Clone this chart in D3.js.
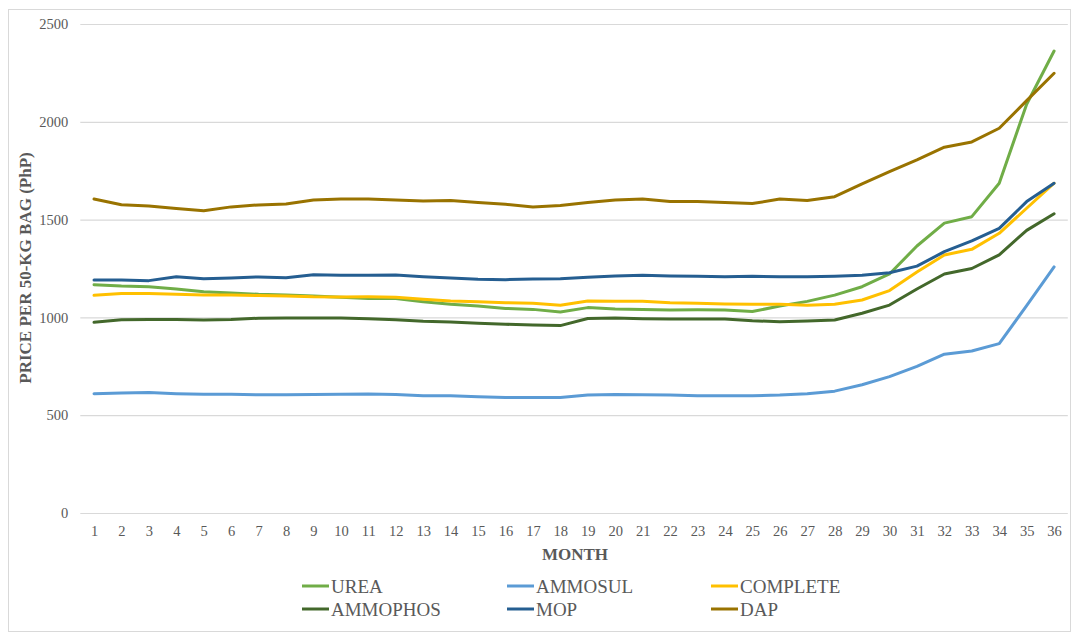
<!DOCTYPE html>
<html>
<head>
<meta charset="utf-8">
<script src="https://d3js.org/d3.v7.min.js"></script>
<style>
  body { margin: 0; background: #fff; }
  svg text { font-family: "Liberation Serif", "Times New Roman", serif; fill: #595959; }
</style>
</head>
<body>
<div class="chart"></div>
<script>
var months = d3.range(1, 37);
var yTicks = [0, 500, 1000, 1500, 2000, 2500];

var urea = [1167, 1160, 1157, 1145, 1131, 1125, 1118, 1115, 1110, 1103, 1096, 1096,
  1080, 1067, 1058, 1046, 1041, 1028, 1050, 1043, 1041, 1038, 1039, 1038,
  1030, 1058, 1082, 1114, 1157, 1222, 1365, 1482, 1515, 1686, 2090, 2362];
var ammosul = [610, 613, 616, 610, 607, 607, 604, 604, 606, 607, 609, 606,
  600, 600, 594, 590, 590, 590, 603, 606, 604, 603, 600, 600,
  600, 603, 610, 623, 656, 697, 750, 812, 828, 866, 1060, 1258];
var complete = [1113, 1122, 1122, 1118, 1115, 1115, 1112, 1110, 1105, 1104, 1105, 1103,
  1093, 1084, 1080, 1075, 1072, 1062, 1084, 1082, 1082, 1075, 1072, 1069,
  1067, 1067, 1062, 1067, 1089, 1137, 1232, 1319, 1348, 1430, 1558, 1686];
var ammophos = [975, 988, 989, 989, 987, 989, 996, 997, 997, 997, 993, 988,
  980, 976, 970, 965, 961, 958, 994, 997, 993, 992, 992, 992,
  983, 978, 981, 987, 1021, 1063, 1145, 1222, 1250, 1320, 1445, 1530];
var mop = [1191, 1191, 1188, 1208, 1198, 1201, 1207, 1203, 1218, 1215, 1215, 1217,
  1208, 1201, 1195, 1193, 1196, 1198, 1205, 1212, 1215, 1212, 1210, 1208,
  1210, 1208, 1208, 1210, 1215, 1228, 1262, 1336, 1391, 1455, 1592, 1686];
var dap = [1605, 1576, 1570, 1557, 1545, 1565, 1575, 1580, 1600, 1605, 1605, 1600,
  1595, 1598, 1588, 1578, 1565, 1572, 1588, 1600, 1605, 1592, 1592, 1588,
  1582, 1605, 1598, 1617, 1683, 1745, 1805, 1870, 1897, 1967, 2108, 2248];

var seriesNames = ["UREA", "AMMOSUL", "COMPLETE", "AMMOPHOS", "MOP", "DAP"];
var seriesValues = [urea, ammosul, complete, ammophos, mop, dap];
var colors = ["#70AD47", "#5B9BD5", "#FFC000", "#43682B", "#255E91", "#997300"];

var width = 1072, height = 632;
var plot = {left: 80.3, right: 1067.8, top: 24, bottom: 513};

var svg = d3.select(".chart").append("svg")
    .attr("width", width)
    .attr("height", height);

// outer chart border
svg.append("rect")
    .attr("x", 8.5).attr("y", 9.5)
    .attr("width", 1062).attr("height", 622)
    .attr("fill", "none")
    .attr("stroke", "#d9d9d9");

var x = d3.scalePoint().domain(months).range([plot.left, plot.right]).padding(0.5);
var y = d3.scaleLinear().domain([0, 2500]).range([plot.bottom, plot.top]);

// gridlines + y labels
var yAxis = d3.axisLeft(y).tickValues(yTicks).tickFormat(d3.format("d"))
    .tickSize(-(plot.right - plot.left)).tickPadding(12);

svg.append("g")
    .attr("class", "y axis")
    .attr("transform", "translate(" + plot.left + ",0)")
    .call(yAxis)
    .call(g => g.select(".domain").remove())
    .call(g => g.selectAll("line").attr("stroke", "#d9d9d9").attr("stroke-width", 1.2))
    .call(g => g.selectAll("text")
      .style("font-family", "Liberation Serif")
      .style("font-size", "14.5px")
      .attr("fill", "#595959"));

var xAxis = d3.axisBottom(x).tickSize(0).tickPadding(13);

svg.append("g")
    .attr("class", "x axis")
    .attr("transform", "translate(0," + plot.bottom + ")")
    .call(xAxis)
    .call(g => g.select(".domain").remove())
    .call(g => g.selectAll("text")
      .style("font-family", "Liberation Serif")
      .style("font-size", "14.5px")
      .attr("fill", "#595959"));

// lines
var line = d3.line()
    .x((d, i) => x(months[i]))
    .y(d => y(d));

svg.append("g").selectAll("path")
    .data(seriesValues)
  .enter().append("path")
    .attr("d", line)
    .attr("fill", "none")
    .attr("stroke", (d, i) => colors[i])
    .attr("stroke-width", 3)
    .attr("stroke-linejoin", "round")
    .attr("stroke-linecap", "round");

// axis titles
svg.append("text")
    .attr("x", 575).attr("y", 560)
    .attr("text-anchor", "middle")
    .style("font-size", "17px")
    .style("font-weight", "bold")
    .text("MONTH");

svg.append("text")
    .attr("transform", "translate(31,268) rotate(-90)")
    .attr("text-anchor", "middle")
    .style("font-size", "17px")
    .style("font-weight", "bold")
    .text("PRICE PER 50-KG BAG (PhP)");

// legend
var legendX = [302, 507, 711];
var legendY = [586, 609];

var legend = svg.append("g").selectAll("g")
    .data(seriesNames)
  .enter().append("g")
    .attr("transform", (d, i) => "translate(" + legendX[i % 3] + "," + legendY[Math.floor(i / 3)] + ")");

legend.append("line")
    .attr("x1", 0).attr("x2", 27)
    .attr("stroke", (d, i) => colors[i])
    .attr("stroke-width", 3);

legend.append("text")
    .attr("x", 29).attr("y", 7)
    .style("font-size", "19px")
    .text(d => d);
</script>
</body>
</html>
